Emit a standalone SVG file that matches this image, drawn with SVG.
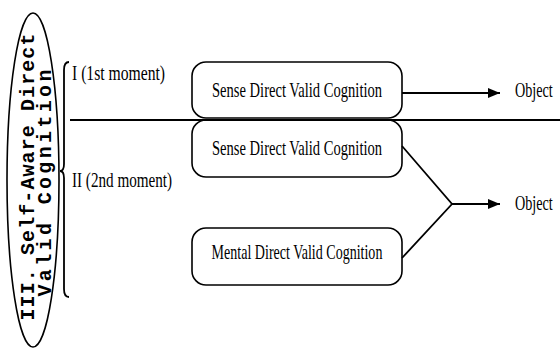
<svg xmlns="http://www.w3.org/2000/svg" width="560" height="351" viewBox="0 0 560 351">
<defs>
<style>
.box{fill:#fff;stroke:#000;stroke-width:1.6}
.lbl{font-family:"Liberation Serif","Times New Roman",serif;font-size:22px;fill:#000}
.mono{font-family:"Liberation Mono","Courier New",monospace;font-size:20px;font-weight:bold;fill:#000}
.ln{fill:none;stroke:#000;stroke-width:1.8}
</style>
<marker id="ah" viewBox="0 0 12 10" refX="12" refY="5" markerWidth="12" markerHeight="10" markerUnits="userSpaceOnUse" orient="auto">
<path d="M0,0 L12,5 L0,10 Z" fill="#000"/>
</marker>
</defs>
<rect width="560" height="351" fill="#fff"/>

<g id="category">
<ellipse cx="33" cy="180" rx="26" ry="167" fill="#fff" stroke="#000" stroke-width="1.6"/>
<text class="mono" transform="translate(34,177) rotate(-90)" text-anchor="middle" textLength="287" lengthAdjust="spacing">III. Self-Aware Direct</text>
<text class="mono" transform="translate(51,183) rotate(-90)" text-anchor="middle" textLength="227" lengthAdjust="spacing">Valid Cognition</text>
</g>

<g id="brace">
<path class="ln" d="M69,62 Q64,62 64,70 L64,164 Q64,171 60,171 Q64,171 64,178 L64,289 Q64,297 69,297"/>
</g>

<g id="moment1">
<text class="lbl" transform="translate(72,80) scale(0.7,1)" textLength="133" lengthAdjust="spacingAndGlyphs">I (1st moment)</text>
</g>
<g id="moment2">
<text class="lbl" transform="translate(72,187) scale(0.7,1)" textLength="143" lengthAdjust="spacingAndGlyphs">II (2nd moment)</text>
</g>

<g id="sense1">
<rect class="box" x="192" y="62" width="210" height="56" rx="14" ry="14"/>
<text class="lbl" transform="translate(297,97) scale(0.7,1)" text-anchor="middle" textLength="243" lengthAdjust="spacingAndGlyphs">Sense Direct Valid Cognition</text>
</g>
<g id="sense2">
<rect class="box" x="192" y="120" width="210" height="57" rx="14" ry="14"/>
<text class="lbl" transform="translate(297,155) scale(0.7,1)" text-anchor="middle" textLength="243" lengthAdjust="spacingAndGlyphs">Sense Direct Valid Cognition</text>
</g>
<g id="mental">
<rect class="box" x="192" y="228" width="210" height="57" rx="14" ry="14"/>
<text class="lbl" transform="translate(297,259) scale(0.7,1)" text-anchor="middle" textLength="244" lengthAdjust="spacingAndGlyphs">Mental Direct Valid Cognition</text>
</g>

<g id="object1">
<text class="lbl" transform="translate(515,97) scale(0.7,1)" textLength="54" lengthAdjust="spacingAndGlyphs">Object</text>
</g>
<g id="object2">
<text class="lbl" transform="translate(515,210) scale(0.7,1)" textLength="54" lengthAdjust="spacingAndGlyphs">Object</text>
</g>

<g id="connectors">
<line class="ln" x1="70" y1="120" x2="560" y2="120" stroke-width="1.5"/>
<line class="ln" x1="402" y1="93" x2="500" y2="93" marker-end="url(#ah)"/>
<polyline class="ln" points="402,146 452,204 402,258"/>
<line class="ln" x1="452" y1="204" x2="500" y2="204" marker-end="url(#ah)"/>
</g>
</svg>
